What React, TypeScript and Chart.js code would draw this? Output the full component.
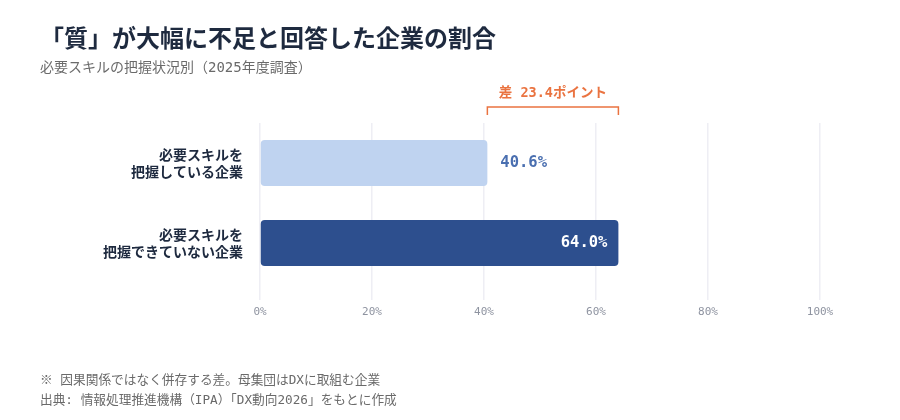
import React, { useEffect, useRef } from "react";
import { Chart, registerables } from "chart.js";

Chart.register(...registerables);

const title = "「質」が大幅に不足と回答した企業の割合";
const subtitle = "必要スキルの把握状況別（2025年度調査）";
const categories = [
  ["必要スキルを", "把握している企業"],
  ["必要スキルを", "把握できていない企業"],
];
const values = [40.6, 64.0];
const barColors = ["#bfd3f0", "#2d4f8e"];
const xTicks = [0, 20, 40, 60, 80, 100];
const gapPrefix = "差 ";
const gapSuffix = "ポイント";
const notes = [
  "※ 因果関係ではなく併存する差。母集団はDXに取組む企業",
  "出典: 情報処理推進機構（IPA）「DX動向2026」をもとに作成",
];

const FONT = '"DejaVu Sans Mono", "Noto Sans CJK JP", sans-serif';
const JP = '"Noto Sans CJK JP", sans-serif';
const ORANGE = "#ea7340";

const textPlugin = {
  id: "texts",
  afterDraw(chart: Chart) {
    const ctx = chart.ctx;
    ctx.save();
    ctx.textAlign = "left";
    ctx.textBaseline = "middle";
    ctx.fillStyle = "#1e2a3f";
    ctx.font = `bold 24px ${JP}`;
    ctx.fillText(title, 40, 38);
    ctx.fillStyle = "#6a6a6a";
    ctx.font = `14px ${FONT}`;
    ctx.fillText(subtitle, 40, 68);
    ctx.font = `12.7px ${FONT}`;
    notes.forEach((n, i) => ctx.fillText(n, 40, 381 + i * 20));
    ctx.restore();
  },
};

const valuePlugin = {
  id: "values",
  afterDatasetsDraw(chart: Chart) {
    const ctx = chart.ctx;
    const meta = chart.getDatasetMeta(0);
    ctx.save();
    ctx.font = `bold 15.5px ${FONT}`;
    ctx.textBaseline = "middle";
    meta.data.forEach((bar: any, i: number) => {
      const { x, y } = bar.getProps(["x", "y"], true);
      const label = `${values[i].toFixed(1)}%`;
      if (values[i] > 50) {
        ctx.textAlign = "right";
        ctx.fillStyle = "#ffffff";
        ctx.fillText(label, x - 11, y);
      } else {
        ctx.textAlign = "left";
        ctx.fillStyle = "#4a6fb0";
        ctx.fillText(label, x + 13, y);
      }
    });
    ctx.restore();
  },
};

const gapPlugin = {
  id: "gap",
  afterDraw(chart: Chart) {
    const ctx = chart.ctx;
    const xs = chart.scales.x;
    const top = chart.chartArea.top;
    const x1 = xs.getPixelForValue(values[0]);
    const x2 = xs.getPixelForValue(values[1]);
    const yLine = top - 16;
    ctx.save();
    ctx.strokeStyle = ORANGE;
    ctx.lineWidth = 1.5;
    ctx.beginPath();
    ctx.moveTo(x1, yLine + 8);
    ctx.lineTo(x1, yLine);
    ctx.lineTo(x2, yLine);
    ctx.lineTo(x2, yLine + 8);
    ctx.stroke();
    ctx.fillStyle = ORANGE;
    ctx.font = `bold 13.5px ${FONT}`;
    ctx.textAlign = "center";
    ctx.textBaseline = "middle";
    const gap = (values[1] - values[0]).toFixed(1);
    ctx.fillText(`${gapPrefix}${gap}${gapSuffix}`, (x1 + x2) / 2, yLine - 14);
    ctx.restore();
  },
};

export default function App() {
  const ref = useRef<HTMLCanvasElement | null>(null);

  useEffect(() => {
    document.body.style.margin = "0";
    if (!ref.current) return;

    const chart = new Chart(ref.current, {
      type: "bar",
      data: {
        labels: categories,
        datasets: [
          {
            data: values,
            backgroundColor: barColors,
            borderRadius: 4,
            borderSkipped: false,
            barPercentage: 0.575,
            categoryPercentage: 1,
          },
        ],
      },
      options: {
        indexAxis: "y",
        responsive: true,
        maintainAspectRatio: false,
        animation: false,
        layout: { padding: { top: 123, left: 40, right: 80, bottom: 97 } },
        plugins: {
          legend: { display: false },
          tooltip: { enabled: false },
        },
        scales: {
          x: {
            min: 0,
            max: 100,
            afterFit: (s: any) => {
              s.height = 40;
            },
            afterBuildTicks: (s: any) => {
              s.ticks = xTicks.map((v) => ({ value: v }));
            },
            border: { display: false },
            grid: { color: "#eeeef4", lineWidth: 1.5, tickLength: 17 },
            ticks: {
              padding: 6,
              color: "#8e93a0",
              font: { family: FONT, size: 11 },
              callback: (v) => `${v}%`,
            },
          },
          y: {
            afterFit: (s: any) => {
              s.width = 220;
            },
            border: { display: false },
            grid: { display: false },
            ticks: {
              padding: 9,
              color: "#1e2a3f",
              font: { family: JP, size: 14, weight: "bold", lineHeight: 1.25 },
            },
          },
        },
      },
      plugins: [textPlugin, valuePlugin, gapPlugin],
    });

    return () => chart.destroy();
  }, []);

  return (
    <div style={{ width: 900, height: 420, position: "relative" }}>
      <canvas ref={ref} />
    </div>
  );
}
